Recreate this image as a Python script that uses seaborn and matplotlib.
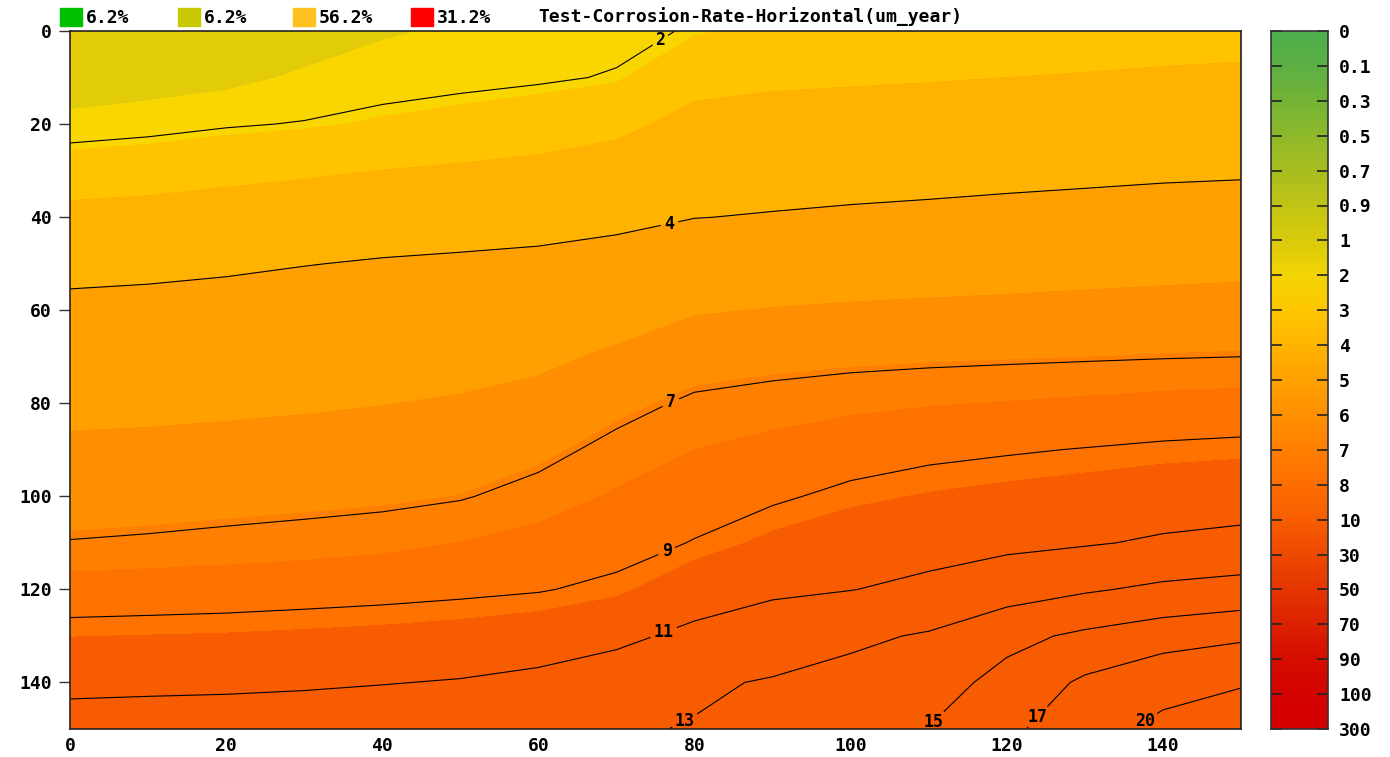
import matplotlib
matplotlib.use("Agg")
import matplotlib.pyplot as plt
import numpy as np
import pandas as pd
import seaborn as sns
from matplotlib.patches import Rectangle

# grid positions (x across, y down)
x_pos = [0, 10, 20, 30, 40, 50, 60, 70, 80, 90, 100, 110, 120, 130, 140, 150]
y_pos = [0, 10, 20, 30, 40, 50, 60, 70, 80, 90, 100, 110, 120, 130, 140, 150]

# corrosion rate, one list per x column, top to bottom
rate_x0 = [0.5, 1.12, 1.74, 2.38, 3.03, 3.68, 4.27, 4.82, 5.37, 5.92, 6.47, 7.04, 8.28, 9.47, 10.6, 11.73]
rate_x10 = [0.7, 1.27, 1.83, 2.45, 3.10, 3.74, 4.33, 4.87, 5.42, 5.96, 6.51, 7.12, 8.34, 9.52, 10.66, 11.8]
rate_x20 = [0.85, 1.40, 1.95, 2.57, 3.21, 3.84, 4.41, 4.95, 5.49, 6.03, 6.57, 7.24, 8.41, 9.57, 10.71, 11.85]
rate_x30 = [1.24, 1.63, 2.03, 2.68, 3.32, 3.97, 4.51, 5.04, 5.57, 6.11, 6.64, 7.37, 8.51, 9.66, 10.80, 11.95]
rate_x40 = [1.49, 1.78, 2.16, 2.81, 3.45, 4.08, 4.61, 5.14, 5.67, 6.20, 6.73, 7.54, 8.62, 9.76, 10.94, 12.1]
rate_x50 = [1.62, 1.86, 2.27, 2.90, 3.54, 4.15, 4.70, 5.26, 5.81, 6.37, 6.92, 7.81, 8.76, 9.90, 11.10, 12.3]
rate_x60 = [1.72, 1.93, 2.40, 3.01, 3.62, 4.23, 4.84, 5.45, 6.06, 6.67, 7.35, 8.14, 8.92, 10.14, 11.41, 12.55]
rate_x70 = [1.85, 2.04, 2.60, 3.19, 3.75, 4.41, 5.15, 5.89, 6.63, 7.30, 7.91, 8.52, 9.28, 10.66, 11.81, 12.8]
rate_x80 = [2.05, 2.55, 3.04, 3.51, 3.98, 4.78, 5.60, 6.42, 7.18, 7.80, 8.42, 9.06, 10.24, 11.36, 12.75, 13.1]
rate_x90 = [2.2, 2.66, 3.12, 3.57, 4.06, 4.90, 5.75, 6.59, 7.38, 8.10, 8.82, 9.73, 10.71, 12.0, 13.14, 13.7]
rate_x100 = [2.25, 2.71, 3.16, 3.62, 4.14, 5.00, 5.85, 6.70, 7.57, 8.43, 9.29, 10.13, 10.96, 12.65, 13.58, 14.4]
rate_x110 = [2.3, 2.75, 3.21, 3.66, 4.21, 5.07, 5.92, 6.77, 7.73, 8.72, 9.57, 10.37, 11.4, 13.18, 14.15, 15.05]
rate_x120 = [2.35, 2.80, 3.25, 3.71, 4.30, 5.14, 5.99, 6.83, 7.84, 8.89, 9.77, 10.62, 12.1, 14.47, 15.62, 16.5]
rate_x130 = [2.4, 2.85, 3.31, 3.76, 4.39, 5.23, 6.06, 6.89, 7.96, 9.05, 9.95, 10.86, 12.79, 15.35, 17.32, 18.5]
rate_x140 = [2.45, 2.91, 3.36, 3.82, 4.49, 5.31, 6.13, 6.95, 8.09, 9.21, 10.15, 11.21, 13.36, 16.07, 18.56, 21.0]
rate_x150 = [2.5, 2.95, 3.41, 3.86, 4.57, 5.38, 6.19, 7.0, 8.19, 9.31, 10.26, 11.46, 13.71, 16.58, 19.63, 22.7]

# filled bands and their colours
fill_levels = [0, 1.55, 2.1, 2.8, 4.0, 5.7, 6.9, 7.8, 9.5, 300]
fill_colors = ["#E2CC0A", "#F9D600", "#FFC300", "#FFB300", "#FFA000",
               "#FF8E00", "#FF7F00", "#FF7200", "#F85C00"]

# contour lines
line_levels = [2, 4, 7, 9, 11, 13, 15, 17, 20]

# colour scale on the right
scale_labels = ["0", "0.1", "0.3", "0.5", "0.7", "0.9", "1", "2", "3", "4", "5",
                "6", "7", "8", "10", "30", "50", "70", "90", "100", "300"]
scale_colors = ["#4CAF4C", "#5DB043", "#75B436", "#8FB92A", "#A8BE1F", "#C2C415",
                "#DACB0C", "#F3D404", "#FFC600", "#FFB400", "#FFA200", "#FF9000",
                "#FF7F00", "#FF6E00", "#F85E00", "#EE4A00", "#E53600", "#DD2200",
                "#D60E00", "#D40300", "#D40000"]

# top legend
legend_labels = ["6.2%", "6.2%", "56.2%", "31.2%"]
legend_colors = ["#00C000", "#C8C800", "#FFC020", "#FF0000"]
chart_title = "Test-Corrosion-Rate-Horizontal(um_year)"

grid = pd.DataFrame(
    dict(zip(x_pos, [rate_x0, rate_x10, rate_x20, rate_x30, rate_x40, rate_x50,
                     rate_x60, rate_x70, rate_x80, rate_x90, rate_x100, rate_x110,
                     rate_x120, rate_x130, rate_x140, rate_x150])),
    index=y_pos,
)

sns.set_style("white")
plt.rcParams["font.family"] = ["DejaVu Sans Mono"]
plt.rcParams["font.weight"] = "bold"
plt.rcParams["font.size"] = 13
plt.rcParams["text.color"] = "black"
plt.rcParams["xtick.color"] = "black"
plt.rcParams["ytick.color"] = "black"

W, H = 1390, 757
fig = plt.figure(figsize=(W / 100, H / 100), dpi=100)
ax = fig.add_axes([70 / W, 1 - 729 / H, 1171 / W, 698 / H])
cax = fig.add_axes([1271 / W, 1 - 729 / H, 57 / W, 698 / H])

X, Y = np.meshgrid(grid.columns.values, grid.index.values)
Z = grid.values

ax.contourf(X, Y, Z, levels=fill_levels, colors=fill_colors)
cs = ax.contour(X, Y, Z, levels=line_levels, colors="black", linewidths=0.8)
label_spots = [(76, 3), (77, 43), (77, 80), (77, 114), (76, 129),
               (79, 149), (111, 149), (125, 149), (138, 149)]
labels = ax.clabel(cs, inline=True, fmt="%d", manual=label_spots, fontsize=12, inline_spacing=4)
for t in labels:
    t.set_fontweight("bold")
    t.set_rotation(0)

ax.set_xlim(0, 150)
ax.set_ylim(150, 0)
ax.set_xticks(range(0, 150, 20))
ax.set_yticks(range(0, 150, 20))
ax.tick_params(axis="x", length=0, pad=6, labelsize=13)
ax.tick_params(axis="y", length=8, width=1, color="#333333", pad=5, labelsize=13, left=True)
for s in ax.spines.values():
    s.set_color("#222222")
    s.set_linewidth(1.2)

# colour scale
cmap = sns.blend_palette(scale_colors, n_colors=256, as_cmap=True)
cax.imshow(np.linspace(0, 1, 256).reshape(-1, 1), aspect="auto", cmap=cmap,
           extent=[0, 1, len(scale_labels) - 1, 0])
cax.set_xticks([])
cax.set_yticks(range(len(scale_labels)))
cax.set_yticklabels(scale_labels)
cax.tick_params(axis="y", direction="in", left=True, right=True, labelleft=False,
                labelright=True, length=8, width=1.2, color="#222222", pad=8, labelsize=13)
for s in cax.spines.values():
    s.set_color("#333333")
    s.set_linewidth(1.2)

# legend row and title
legend_x = [60, 178, 293, 411]
for lx, lab, col in zip(legend_x, legend_labels, legend_colors):
    fig.add_artist(Rectangle((lx / W, 1 - 26 / H), 22 / W, 18 / H, color=col,
                             transform=fig.transFigure))
    fig.text((lx + 26) / W, 1 - 18 / H, lab, va="center", ha="left", fontsize=13)
fig.text(538 / W, 1 - 17 / H, chart_title, va="center", ha="left", fontsize=13)

fig.savefig("out.png", dpi=100)
